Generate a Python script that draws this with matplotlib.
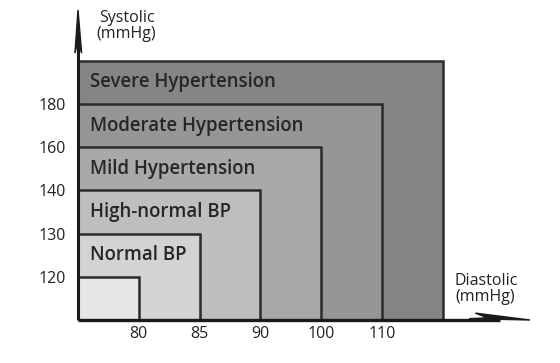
import matplotlib

matplotlib.use("Agg")
import matplotlib.pyplot as plt
from matplotlib.patches import Polygon

# blood pressure classes (outermost first), drawn on an index scale
CLASSES = ["Severe Hypertension", "Moderate Hypertension", "Mild Hypertension",
           "High-normal BP", "Normal BP", ""]
X_EXTENT = [6, 5, 4, 3, 2, 1]
Y_EXTENT = [6, 5, 4, 3, 2, 1]
FILLS = ["#848587", "#959698", "#a8a9ab", "#bdbebf", "#d3d3d3", "#e6e6e6"]

DIASTOLIC_TICKS = [1, 2, 3, 4, 5]
DIASTOLIC_LABELS = ["80", "85", "90", "100", "110"]
SYSTOLIC_TICKS = [1, 2, 3, 4, 5]
SYSTOLIC_LABELS = ["120", "130", "140", "160", "180"]

plt.rcParams["font.family"] = ["Open Sans", "DejaVu Sans"]

W, H = 560, 363
fig = plt.figure(figsize=(W / 100, H / 100), dpi=100)
# origin at pixel (78, 320); 60.8 px per x unit, 43.2 px per y unit
x0, y0 = 78, 320
sx, sy = 60.8, 43.2
ax = fig.add_axes([x0 / W, (H - y0) / H, (530 - x0) / W, (y0 - 10) / H])
ax.set_xlim(0, (530 - x0) / sx)
ax.set_ylim(0, (y0 - 10) / sy)

for xe, ye, color in zip(X_EXTENT, Y_EXTENT, FILLS):
    ax.bar(0, ye, width=xe, align="edge", color=color, edgecolor="#2b2b2b",
           linewidth=1.8, zorder=2)

for name, ye in zip(CLASSES, Y_EXTENT):
    if name:
        ax.text(0.2, ye - 0.5, name, ha="left", va="center", fontsize=13.4,
                fontweight=600, color="#262626", zorder=3)

for s in ax.spines.values():
    s.set_visible(False)

ax.set_xticks(DIASTOLIC_TICKS)
ax.set_xticklabels(DIASTOLIC_LABELS, fontsize=11.5, color="#222222")
ax.set_yticks(SYSTOLIC_TICKS)
ax.set_yticklabels(SYSTOLIC_LABELS, fontsize=11.5, color="#222222")
ax.tick_params(length=0, pad=4)
ax.tick_params(axis="y", pad=9)

# axes lines with one-sided arrow heads
xmax = (530 - x0) / sx
ymax = (y0 - 10) / sy
ax.plot([0, xmax - 0.5], [0, 0], color="#1a1a1a", lw=2.4, clip_on=False,
        zorder=4, solid_capstyle="butt")
ax.plot([0, 0], [0, ymax - 0.6], color="#1a1a1a", lw=2.2, clip_on=False,
        zorder=4, solid_capstyle="butt")
ax.add_patch(Polygon([[xmax - 1.0, 0.03], [xmax, 0.0], [xmax - 0.9, 0.16],
                      [xmax - 0.7, 0.05]],
                     closed=True, color="#1a1a1a", clip_on=False, zorder=4))
ax.add_patch(Polygon([[-0.05, ymax - 1.0], [0.0, ymax], [0.06, ymax - 1.0],
                      [0.0, ymax - 0.7]],
                     closed=True, color="#1a1a1a", clip_on=False, zorder=4))

ax.text(0.8, ymax - 0.37, "Systolic\n(mmHg)", ha="center", va="center",
        fontsize=11.5, color="#222222", linespacing=0.95)
ax.text(6.2, 0.72, "Diastolic\n(mmHg)", ha="left", va="center",
        fontsize=11.5, color="#222222", linespacing=0.95)

fig.savefig("out.png", dpi=100)
